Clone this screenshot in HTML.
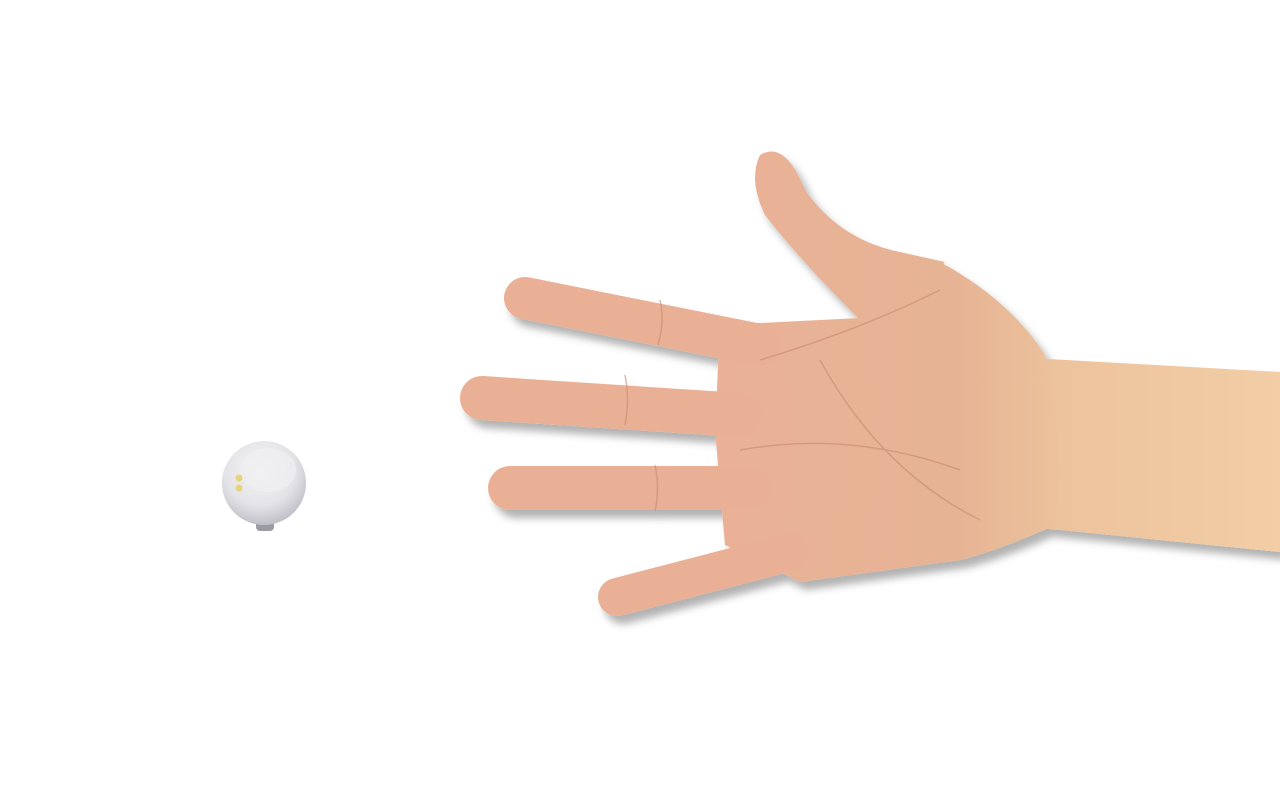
<!DOCTYPE html>
<html>
<head>
<meta charset="utf-8">
<style>
  html,body{margin:0;padding:0;background:#fff;}
  body{width:1280px;height:800px;overflow:hidden;font-family:"Liberation Sans",sans-serif;}
  svg{display:block;}
</style>
</head>
<body>
<svg width="1280" height="800" viewBox="0 0 1280 800">
  <defs>
    <radialGradient id="dev" cx="0.45" cy="0.35" r="0.7">
      <stop offset="0" stop-color="#f4f4f6"/>
      <stop offset="0.6" stop-color="#e4e4e8"/>
      <stop offset="1" stop-color="#b8b8c0"/>
    </radialGradient>
    <linearGradient id="skin" x1="700" y1="0" x2="1060" y2="0" gradientUnits="userSpaceOnUse">
      <stop offset="0" stop-color="#eab197"/>
      <stop offset="0.7" stop-color="#e6b394"/>
      <stop offset="1" stop-color="#ecc29c"/>
    </linearGradient>
    <linearGradient id="armg" x1="1040" y1="0" x2="1280" y2="0" gradientUnits="userSpaceOnUse">
      <stop offset="0" stop-color="#ecc29c"/>
      <stop offset="1" stop-color="#f2cda5"/>
    </linearGradient>
    <filter id="sh" x="-10%" y="-10%" width="130%" height="130%">
      <feDropShadow dx="6" dy="8" stdDeviation="4" flood-color="#000" flood-opacity="0.3"/>
    </filter>
  </defs>

  <g>
    <rect x="256" y="518" width="18" height="13" rx="4" fill="#9a9aa2"/>
    <circle cx="264" cy="483" r="42" fill="url(#dev)"/>
    <ellipse cx="268" cy="470" rx="28" ry="22" fill="#efeff2" opacity="0.7"/>
    <circle cx="239" cy="478" r="3.5" fill="#e8d27a"/>
    <circle cx="239" cy="488" r="3.5" fill="#e8d27a"/>
  </g>

  <g filter="url(#sh)">
    <path d="M1030 358 L1280 372 L1280 552 L1040 528 Z" fill="url(#armg)"/>
    <g fill="url(#skin)">
      <path d="M720 325 L860 318 Q900 280 940 262 Q1010 300 1045 355 Q1065 440 1055 525 Q1000 550 960 560 L800 582 L725 545 L715 430 Z"/>
      <path d="M760 155 Q785 140 805 190 Q840 240 900 252 L945 262 L900 320 L860 320 Q800 260 765 215 Q748 180 760 155 Z"/>
    </g>
    <g stroke="#e9b096" stroke-linecap="round" fill="none">
      <line x1="525" y1="298" x2="760" y2="345" stroke-width="42"/>
      <line x1="482" y1="398" x2="740" y2="415" stroke-width="44"/>
      <line x1="510" y1="488" x2="750" y2="488" stroke-width="44"/>
      <line x1="617" y1="597" x2="790" y2="552" stroke-width="38"/>
    </g>
    <g stroke="#c98a73" stroke-width="1.5" fill="none" opacity="0.6">
      <path d="M820 360 Q880 470 980 520"/>
      <path d="M760 360 Q860 330 940 290"/>
      <path d="M740 450 Q850 430 960 470"/>
      <path d="M625 375 Q630 400 625 425"/>
      <path d="M655 465 Q660 488 655 512"/>
      <path d="M660 300 Q665 320 658 345"/>
    </g>
  </g>
</svg>
</body>
</html>
